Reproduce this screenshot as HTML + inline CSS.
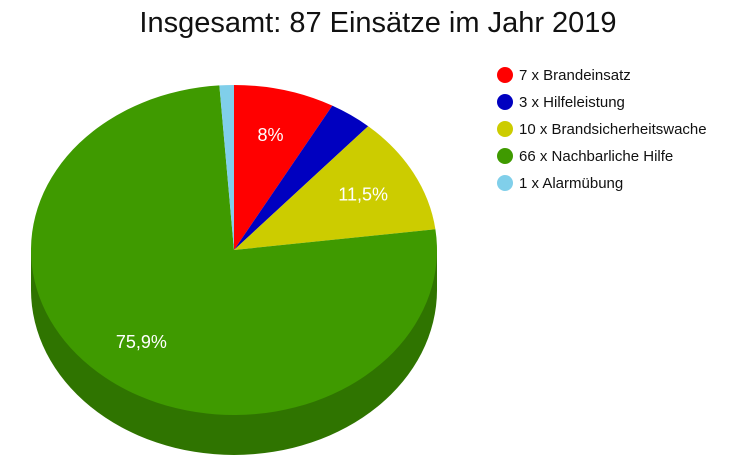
<!DOCTYPE html>
<html><head><meta charset="utf-8">
<style>
body{margin:0;background:#fff;}
svg{display:block;font-family:"Liberation Sans",Arial,sans-serif;}
</style></head>
<body>
<svg id="chart" width="756" height="470" viewBox="0 0 756 470">
<text x="378" y="32" text-anchor="middle" font-size="29" fill="#111">Insgesamt: 87 Einsätze im Jahr 2019</text>
<g id="pie"></g>
<g id="legend"></g>
</svg>
<script>
const categories = ["Brandeinsatz","Hilfeleistung","Brandsicherheitswache","Nachbarliche Hilfe","Alarmübung"];
const values = [7,3,10,66,1];
const colors = ["#ff0000","#0000c0","#cccc00","#3f9a00","#80cfea"];
const NS="http://www.w3.org/2000/svg";
const cx=234, cy=250, rx=203, ry=165, depth=40;
const total=values.reduce((a,b)=>a+b,0);
const pie=document.getElementById('pie');
const legend=document.getElementById('legend');
function pt(t,dy){return [cx+rx*Math.sin(t), cy+(dy||0)-ry*Math.cos(t)];}
// side (front face)
let side=document.createElementNS(NS,'path');


side.setAttribute('d',`M${cx-rx},${cy} L${cx-rx},${cy+depth} A${rx},${ry} 0 0 0 ${cx+rx},${cy+depth} L${cx+rx},${cy} Z`);
side.setAttribute('fill','#2f7400');
pie.appendChild(side);
let acc=0;
values.forEach((v,i)=>{
  const a0=acc/total*2*Math.PI; acc+=v; const a1=acc/total*2*Math.PI;
  const p0=pt(a0), p1=pt(a1);
  const large=(a1-a0)>Math.PI?1:0;
  const s=document.createElementNS(NS,'path');
  
  
  s.setAttribute('d',`M${cx},${cy} L${p0[0]},${p0[1]} A${rx},${ry} 0 ${large} 1 ${p1[0]},${p1[1]} Z`);
  s.setAttribute('fill',colors[i]);
  pie.appendChild(s);
  const pct=v/total*100;
  if(pct>5){
    const m=(a0+a1)/2;
    const lx=cx+rx*0.72*Math.sin(m), ly=cy-ry*0.72*Math.cos(m);
    const t=document.createElementNS(NS,'text');
    
    
    t.setAttribute('x',lx); t.setAttribute('y',ly+6);
    t.setAttribute('text-anchor','middle'); t.setAttribute('font-size','18'); t.setAttribute('fill','#fff');
    let s1=(Math.round(pct*10)/10).toFixed(1).replace(/\.0$/,'').replace('.',',');
    t.textContent=s1+'%';
    pie.appendChild(t);
  }
  const c=document.createElementNS(NS,'circle');
  
  
  c.setAttribute('cx',505); c.setAttribute('cy',75+27*i); c.setAttribute('r',8); c.setAttribute('fill',colors[i]);
  legend.appendChild(c);
  const lt=document.createElementNS(NS,'text');
  
  
  lt.setAttribute('x',519); lt.setAttribute('y',80+27*i); lt.setAttribute('font-size','15'); lt.setAttribute('fill','#111');
  lt.textContent=v+' x '+categories[i];
  legend.appendChild(lt);
});
</script>
</body></html>
